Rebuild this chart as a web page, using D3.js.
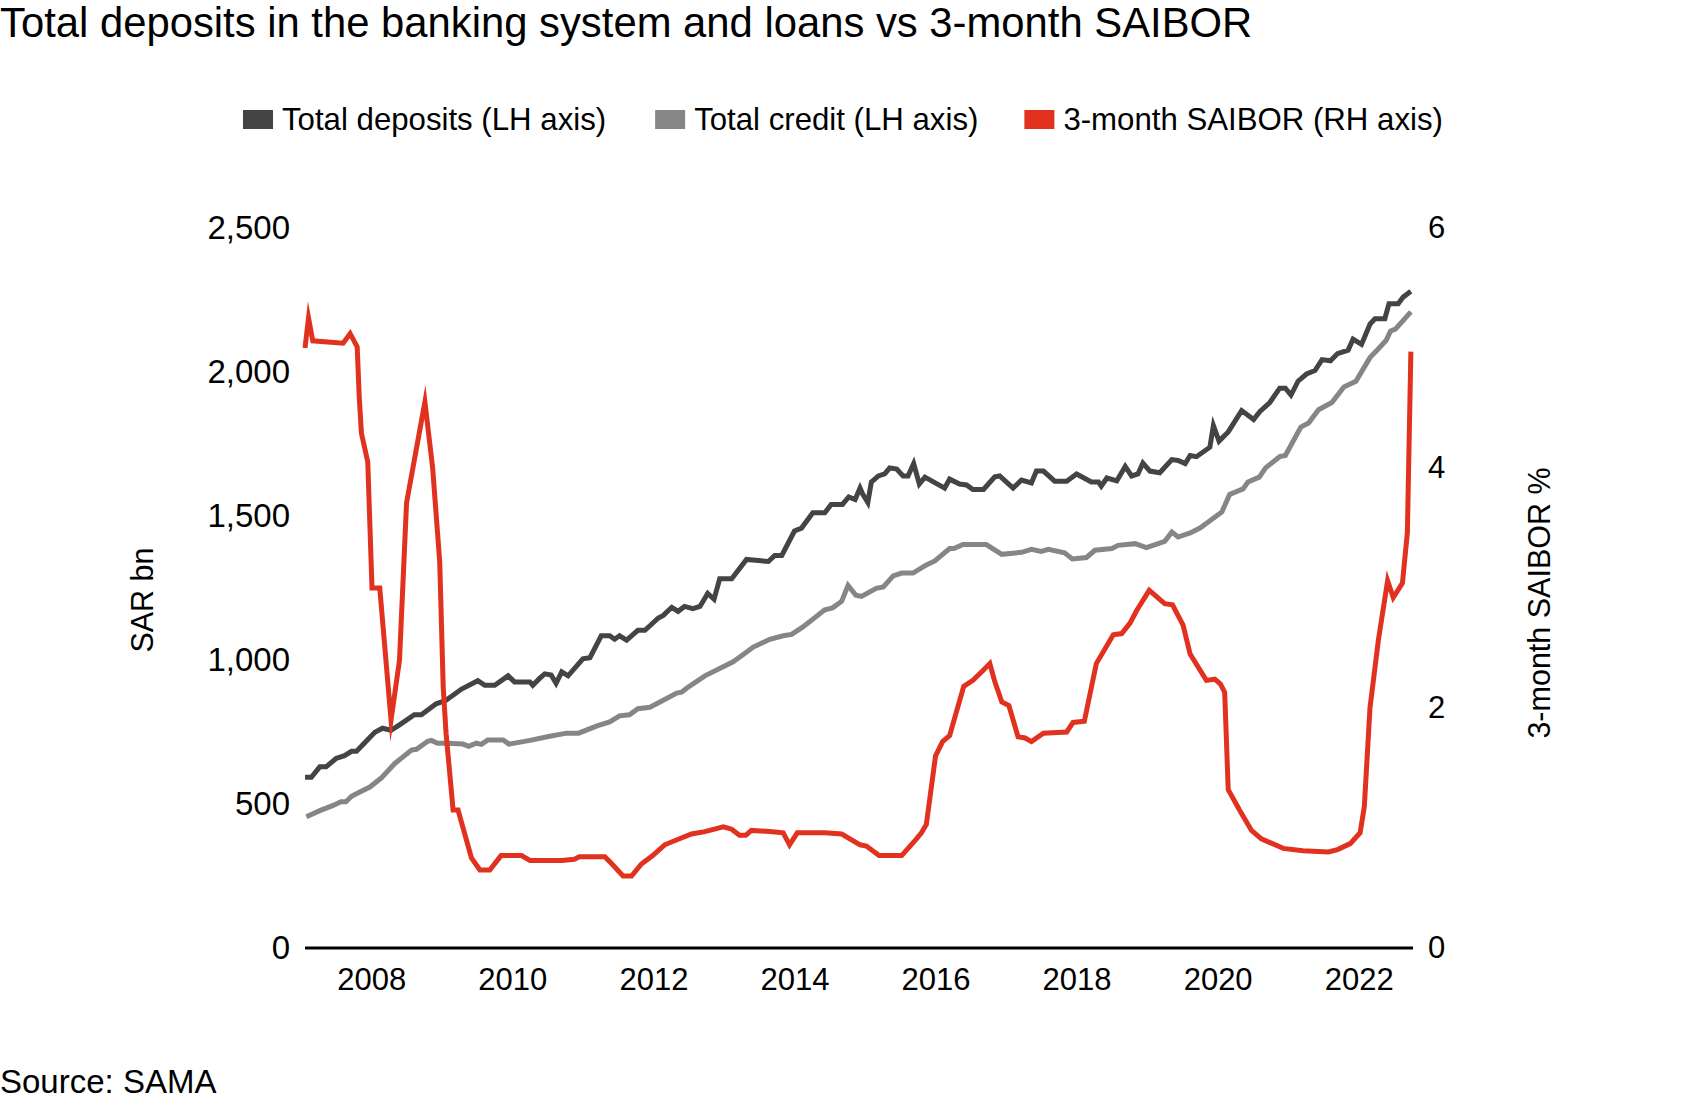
<!DOCTYPE html>
<html>
<head>
<meta charset="utf-8">
<script src="https://cdn.jsdelivr.net/npm/d3@7"></script>
<style>
  body { margin: 0; background: #fff; }
  svg { display: block; }
  text { font-family: "Liberation Sans", Arial, sans-serif; fill: #000; }
</style>
</head>
<body>
<div id="chart"></div>
<script>
// data (decimal years)
var depositsTime = [2007.06,2007.15,2007.27,2007.36,2007.50,2007.62,2007.72,2007.79,2007.90,2008.05,2008.16,2008.28,2008.40,2008.61,2008.71,2008.92,2009.06,2009.28,2009.51,2009.61,2009.75,2009.94,2010.03,2010.25,2010.29,2010.39,2010.46,2010.55,2010.62,2010.70,2010.79,2011.00,2011.10,2011.26,2011.38,2011.45,2011.52,2011.62,2011.78,2011.88,2012.07,2012.14,2012.26,2012.35,2012.44,2012.56,2012.66,2012.77,2012.86,2012.94,2013.11,2013.32,2013.63,2013.72,2013.82,2014.00,2014.10,2014.26,2014.43,2014.52,2014.68,2014.77,2014.86,2014.93,2014.97,2015.04,2015.09,2015.19,2015.28,2015.35,2015.45,2015.54,2015.61,2015.69,2015.77,2015.85,2016.13,2016.20,2016.34,2016.44,2016.53,2016.68,2016.84,2016.91,2017.10,2017.22,2017.36,2017.43,2017.53,2017.69,2017.86,2018.00,2018.21,2018.31,2018.35,2018.43,2018.57,2018.69,2018.78,2018.87,2018.94,2019.04,2019.18,2019.35,2019.44,2019.54,2019.61,2019.70,2019.89,2019.94,2020.02,2020.15,2020.34,2020.51,2020.60,2020.74,2020.88,2020.96,2021.04,2021.14,2021.26,2021.38,2021.48,2021.60,2021.70,2021.85,2021.92,2022.04,2022.16,2022.23,2022.37,2022.43,2022.56,2022.63,2022.74];
var depositsValues = [593,593,629,629,658,668,683,683,711,749,763,756,775,810,810,848,860,899,928,912,912,945,924,924,912,937,952,948,919,959,945,1004,1008,1084,1084,1072,1084,1069,1103,1103,1146,1155,1183,1169,1186,1178,1186,1231,1211,1282,1282,1349,1342,1363,1363,1448,1458,1511,1511,1540,1540,1566,1557,1597,1575,1547,1618,1639,1646,1667,1663,1639,1639,1682,1611,1635,1597,1628,1611,1608,1592,1592,1636,1639,1597,1625,1615,1656,1656,1621,1621,1646,1618,1618,1604,1632,1622,1672,1639,1646,1684,1656,1650,1696,1693,1682,1710,1706,1739,1814,1760,1792,1866,1835,1863,1894,1944,1944,1920,1968,1993,2005,2043,2039,2064,2076,2114,2096,2166,2185,2185,2237,2237,2260,2280];

var creditTime = [2007.08,2007.27,2007.46,2007.57,2007.64,2007.72,2007.83,2007.98,2008.14,2008.33,2008.57,2008.64,2008.80,2008.85,2008.94,2009.09,2009.30,2009.38,2009.49,2009.56,2009.65,2009.87,2009.95,2010.25,2010.53,2010.77,2010.94,2011.21,2011.38,2011.52,2011.66,2011.78,2011.95,2012.14,2012.33,2012.40,2012.47,2012.73,2013.13,2013.27,2013.41,2013.65,2013.84,2013.96,2014.12,2014.43,2014.54,2014.67,2014.76,2014.87,2014.95,2015.16,2015.26,2015.40,2015.52,2015.68,2015.87,2015.99,2016.20,2016.26,2016.39,2016.72,2016.94,2017.22,2017.36,2017.50,2017.60,2017.83,2017.94,2018.14,2018.26,2018.50,2018.59,2018.83,2018.99,2019.25,2019.35,2019.44,2019.61,2019.75,2020.06,2020.17,2020.36,2020.43,2020.59,2020.68,2020.88,2020.96,2021.18,2021.29,2021.43,2021.62,2021.79,2021.96,2022.16,2022.28,2022.39,2022.45,2022.52,2022.74];
var creditValues = [456,477,495,508,508,527,541,559,590,640,687,690,718,721,711,711,708,700,711,707,722,722,708,721,735,746,746,772,785,806,810,831,836,860,885,888,902,945,994,1018,1044,1072,1084,1089,1115,1174,1181,1204,1259,1225,1221,1249,1254,1292,1302,1302,1330,1344,1387,1387,1401,1401,1367,1374,1384,1377,1384,1372,1351,1356,1381,1387,1398,1404,1390,1412,1444,1427,1441,1458,1514,1575,1594,1618,1635,1667,1706,1710,1809,1823,1869,1894,1948,1968,2050,2081,2110,2142,2149,2209];

var saiborTime = [2007.06,2007.11,2007.17,2007.60,2007.70,2007.80,2007.83,2007.86,2007.95,2008.01,2008.12,2008.28,2008.40,2008.50,2008.76,2008.87,2008.97,2009.02,2009.06,2009.16,2009.23,2009.42,2009.54,2009.68,2009.84,2010.13,2010.25,2010.70,2010.88,2010.95,2011.31,2011.38,2011.57,2011.69,2011.83,2011.99,2012.16,2012.37,2012.54,2012.73,2012.99,2013.11,2013.22,2013.31,2013.39,2013.65,2013.84,2013.93,2014.04,2014.43,2014.67,2014.93,2015.02,2015.20,2015.52,2015.73,2015.80,2015.87,2016.00,2016.10,2016.20,2016.40,2016.53,2016.67,2016.77,2016.84,2016.94,2017.04,2017.17,2017.27,2017.36,2017.53,2017.86,2017.95,2018.11,2018.28,2018.52,2018.64,2018.76,2018.85,2019.03,2019.25,2019.36,2019.51,2019.61,2019.84,2019.96,2020.04,2020.10,2020.15,2020.31,2020.48,2020.62,2020.93,2021.21,2021.57,2021.70,2021.88,2022.02,2022.08,2022.16,2022.28,2022.41,2022.49,2022.62,2022.69,2022.74];
var saiborValues = [5.0,5.25,5.06,5.04,5.12,5.01,4.58,4.29,4.05,3.0,3.0,1.9,2.4,3.71,4.55,4.0,3.22,2.17,1.79,1.15,1.15,0.75,0.65,0.65,0.77,0.77,0.73,0.73,0.74,0.76,0.76,0.72,0.6,0.6,0.7,0.77,0.86,0.91,0.95,0.97,1.01,0.99,0.94,0.94,0.98,0.97,0.96,0.86,0.96,0.96,0.95,0.86,0.85,0.77,0.77,0.91,0.96,1.03,1.6,1.72,1.77,2.18,2.23,2.31,2.37,2.22,2.05,2.02,1.76,1.75,1.72,1.79,1.8,1.88,1.89,2.37,2.61,2.62,2.71,2.81,2.98,2.87,2.86,2.69,2.45,2.23,2.24,2.2,2.13,1.32,1.15,0.98,0.91,0.83,0.81,0.8,0.82,0.87,0.96,1.18,2.0,2.57,3.06,2.92,3.04,3.46,4.97];

var yearTicks = [2008, 2010, 2012, 2014, 2016, 2018, 2020, 2022];
var leftTicks = [0, 500, 1000, 1500, 2000, 2500];
var rightTicks = [0, 2, 4, 6];
var legendLabels = ['Total deposits (LH axis)', 'Total credit (LH axis)', '3-month SAIBOR (RH axis)'];
var seriesColors = ['#444444', '#868686', '#e1311f'];

var width = 1685, height = 1103;
var plot = { left: 305, right: 1413, top: 228, bottom: 948 };

var svg = d3.select('#chart').append('svg')
  .attr('width', width)
  .attr('height', height);

var x = d3.scaleLinear().domain([2007.06, 2022.77]).range([plot.left, plot.right]);
var yLeft = d3.scaleLinear().domain([0, 2500]).range([plot.bottom, plot.top]);
var yRight = d3.scaleLinear().domain([0, 6]).range([plot.bottom, plot.top]);

// title
svg.append('text')
  .attr('x', 0)
  .attr('y', 37)
  .style('font-size', '41.8px')
  .text('Total deposits in the banking system and loans vs 3-month SAIBOR');

// legend, laid out from the text widths
var legendX = 243;
var legendGaps = [49, 46, 0];
legendLabels.forEach(function(label, i) {
  var g = svg.append('g').attr('transform', 'translate(' + legendX + ',0)');
  g.append('rect')
    .attr('x', 0)
    .attr('y', 110)
    .attr('width', 30)
    .attr('height', 19)
    .attr('fill', seriesColors[i]);
  var t = g.append('text')
    .attr('x', 39)
    .attr('y', 130)
    .style('font-size', '31.2px')
    .text(label);
  legendX += 39 + t.node().getComputedTextLength() + legendGaps[i];
});

// axes
var leftAxis = d3.axisLeft(yLeft).tickValues(leftTicks).tickSize(0).tickPadding(15)
  .tickFormat(d3.format(','));
var rightAxis = d3.axisRight(yRight).tickValues(rightTicks).tickSize(0).tickPadding(15)
  .tickFormat(d3.format('d'));
var bottomAxis = d3.axisBottom(x).tickValues(yearTicks).tickSize(0).tickPadding(20)
  .tickFormat(d3.format('d'));

var gl = svg.append('g').attr('transform', 'translate(' + plot.left + ',0)').call(leftAxis);
var gr = svg.append('g').attr('transform', 'translate(' + plot.right + ',0)').call(rightAxis);
var gb = svg.append('g').attr('transform', 'translate(0,' + plot.bottom + ')').call(bottomAxis);

[gl, gr, gb].forEach(function(g) {
  g.select('.domain').remove();
  g.selectAll('text').attr('fill', '#000').style('font-family', '"Liberation Sans", Arial, sans-serif');
});
gl.selectAll('text').style('font-size', '33px');
gr.selectAll('text').style('font-size', '31px');
gb.selectAll('text').style('font-size', '31px');

// axis titles
svg.append('text')
  .attr('transform', 'translate(153,600) rotate(-90)')
  .attr('text-anchor', 'middle')
  .style('font-size', '30.5px')
  .text('SAR bn');

svg.append('text')
  .attr('transform', 'translate(1550,603) rotate(-90)')
  .attr('text-anchor', 'middle')
  .style('font-size', '30.5px')
  .text('3-month SAIBOR %');

// baseline
svg.append('line')
  .attr('x1', plot.left)
  .attr('x2', plot.right)
  .attr('y1', yLeft(0))
  .attr('y2', yLeft(0))
  .attr('stroke', '#000')
  .attr('stroke-width', 3);

// series
var lineLeft = d3.line().x(function(d) { return x(d[0]); }).y(function(d) { return yLeft(d[1]); });
var lineRight = d3.line().x(function(d) { return x(d[0]); }).y(function(d) { return yRight(d[1]); });

var series = [
  { data: d3.zip(creditTime, creditValues), line: lineLeft, color: seriesColors[1] },
  { data: d3.zip(depositsTime, depositsValues), line: lineLeft, color: seriesColors[0] },
  { data: d3.zip(saiborTime, saiborValues), line: lineRight, color: seriesColors[2] }
];

series.forEach(function(s) {
  svg.append('path')
    .datum(s.data)
    .attr('d', s.line)
    .attr('fill', 'none')
    .attr('stroke', s.color)
    .attr('stroke-width', 5)
    .attr('stroke-linejoin', 'miter')
    .attr('stroke-miterlimit', 10);
});

// source
svg.append('text')
  .attr('x', 0)
  .attr('y', 1093)
  .style('font-size', '33px')
  .text('Source: SAMA');
</script>
</body>
</html>
